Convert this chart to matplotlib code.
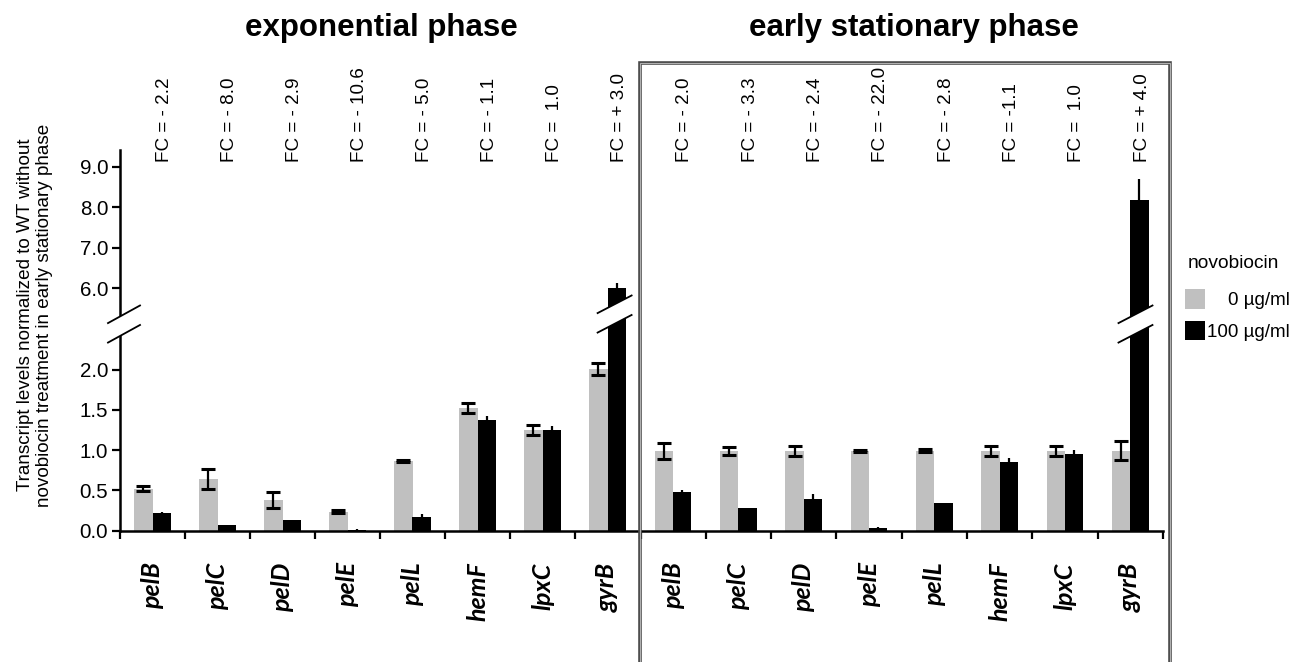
import numpy as np
import matplotlib
matplotlib.use("Agg")
import matplotlib.pyplot as plt
from matplotlib.patches import Polygon, Rectangle
from matplotlib.lines import Line2D
from matplotlib.transforms import IdentityTransform

plt.rcParams['font.family'] = ['Liberation Sans', 'DejaVu Sans']

# ---------------- data ----------------
genes = ['pelB', 'pelC', 'pelD', 'pelE', 'pelL', 'hemF', 'lpxC', 'gyrB']

exp_0 = [0.52, 0.645, 0.38, 0.235, 0.865, 1.52, 1.245, 2.01]
exp_0_err = [0.035, 0.125, 0.10, 0.02, 0.012, 0.06, 0.06, 0.075]
exp_100 = [0.22, 0.065, 0.125, 0.01, 0.17, 1.37, 1.245, 6.0]
exp_100_err = [0.01, 0.005, 0.01, 0.004, 0.04, 0.05, 0.05, 0.12]

stat_0 = [0.99, 0.99, 0.99, 0.99, 0.99, 0.99, 0.99, 0.99]
stat_0_err = [0.10, 0.05, 0.065, 0.015, 0.02, 0.06, 0.06, 0.12]
stat_100 = [0.48, 0.28, 0.39, 0.035, 0.34, 0.85, 0.955, 8.17]
stat_100_err = [0.02, 0.005, 0.06, 0.012, 0.005, 0.05, 0.05, 0.52]

fc_exp = ['FC = - 2.2', 'FC = - 8.0', 'FC = - 2.9', 'FC = - 10.6', 'FC = - 5.0',
          'FC = - 1.1', 'FC =  1.0', 'FC = + 3.0']
fc_stat = ['FC = - 2.0', 'FC = - 3.3', 'FC = - 2.4', 'FC = - 22.0', 'FC = - 2.8',
           'FC = -1.1', 'FC =  1.0', 'FC = + 4.0']

legend_title = 'novobiocin'
legend_labels = ['    0 \u00b5g/ml', '100 \u00b5g/ml']
titles = ['exponential phase', 'early stationary phase']
ylabel = 'Transcript levels normalized to WT without\nnovobiocin treatment in early stationary phase'
yticks = [0.0, 0.5, 1.0, 1.5, 2.0, 6.0, 7.0, 8.0, 9.0]

GRAY = '#c0c0c0'
BLACK = '#000000'

# ---------------- broken y scale ----------------
LOW_SLOPE = 80.5
L_END = 2.36
U_START = 5.52
UP_SLOPE = 40.5
H_L = LOW_SLOPE * L_END
H_U = 223.0
GAP_SLOPE = (H_U - H_L) / (U_START - L_END)


def fwd(y):
    y = np.asarray(y, dtype=float)
    return np.where(y <= L_END, LOW_SLOPE * y,
                    np.where(y >= U_START, H_U + UP_SLOPE * (y - U_START),
                             H_L + GAP_SLOPE * (y - L_END)))


def inv(h):
    h = np.asarray(h, dtype=float)
    return np.where(h <= H_L, h / LOW_SLOPE,
                    np.where(h >= H_U, U_START + (h - H_U) / UP_SLOPE,
                             L_END + (h - H_L) / GAP_SLOPE))


Y_BREAK = (L_END + U_START) / 2
YMAX = 9.41

W, H = 1297, 662
fig = plt.figure(figsize=(W / 100, H / 100), dpi=100)

axL = fig.add_axes([120 / W, 131.5 / H, 520 / W, 380.5 / H])
axR = fig.add_axes([640.5 / W, 131.5 / H, 522.5 / W, 380.5 / H])

x = np.arange(len(genes))
bw = 0.28

containers = {}
for ax, g, ge, b, be, fcs in [(axL, exp_0, exp_0_err, exp_100, exp_100_err, fc_exp),
                              (axR, stat_0, stat_0_err, stat_100, stat_100_err, fc_stat)]:
    ax.set_yscale('function', functions=(fwd, inv))
    ax.set_ylim(0, YMAX)
    ax.set_xlim(-0.5, len(genes) - 0.5)
    c0 = ax.bar(x - bw / 2, g, bw, color=GRAY, zorder=2)
    c1 = ax.bar(x + bw / 2, b, bw, color=BLACK, zorder=2)
    containers[ax] = (c0, c1)
    ax.errorbar(x - bw / 2, g, yerr=ge, fmt='none', ecolor='black',
                elinewidth=1.6, capsize=4.7, capthick=2.2, zorder=3)
    ax.errorbar(x + bw / 2, b, yerr=[np.zeros(len(be)), be], fmt='none',
                ecolor='black', elinewidth=1.6, capsize=0, zorder=3)
    for i, t in enumerate(fcs):
        ax.text(i + 0.18, 9.11, t, rotation=90, ha='center', va='bottom',
                fontsize=13.6, clip_on=False)
    # x axis
    ax.set_xticks(x)
    ax.set_xticklabels(genes, rotation=90, fontfamily='Lato', fontstyle='italic',
                       fontweight='bold', fontsize=18)
    ax.tick_params(axis='x', which='major', length=0, pad=23)
    ax.set_xticks(np.arange(len(genes) + 1) - 0.5, minor=True)
    ax.tick_params(axis='x', which='minor', length=6, width=1.6, direction='out')
    ax.spines['top'].set_visible(False)
    ax.spines['right'].set_visible(False)
    ax.spines['bottom'].set_linewidth(1.8)
    ax.spines['left'].set_linewidth(1.8)

axL.set_yticks(yticks)
axL.set_yticklabels(['%.1f' % v for v in yticks], fontsize=14.8)
axL.yaxis.set_minor_locator(matplotlib.ticker.NullLocator())
axL.tick_params(axis='y', length=5.5, width=1.6, pad=3)

axR.spines['left'].set_visible(False)
axR.set_yticks([])
axR.yaxis.set_minor_locator(matplotlib.ticker.NullLocator())

fig.text(35 / W, 1 - 315 / H, ylabel, rotation=90, ha='center', va='center',
         fontsize=13.6, multialignment='center', linespacing=1.15)

fig.text(381 / W, 1 - 28 / H, titles[0], ha='center', va='center',
         fontsize=22.5, fontweight='bold')
fig.text(914 / W, 1 - 28 / H, titles[1], ha='center', va='center',
         fontsize=22.5, fontweight='bold')

# frame around stationary-phase panel
fig.add_artist(Rectangle((640 / W, -0.05), 530 / W, (0.05 + 1 - 63 / H),
                         transform=fig.transFigure, fill=False,
                         edgecolor='#4a4a4a', linewidth=2.6, zorder=10))
fig.add_artist(Rectangle((640 / W, -0.05), 530 / W, (0.05 + 1 - 63 / H),
                         transform=fig.transFigure, fill=False,
                         edgecolor='#b0b0b0', linewidth=0.8, zorder=11))

# legend
fig.text(1188 / W, 1 - 263 / H, legend_title, ha='left', va='center', fontsize=13.8)
fig.legend(handles=[containers[axL][0], containers[axL][1]], labels=legend_labels,
           loc='upper left', bbox_to_anchor=(1185 / W, 1 - 289 / H),
           frameon=False, fontsize=13.6,
           handlelength=1.06, handleheight=1.22, handletextpad=0.12,
           labelspacing=0.6, borderpad=0, borderaxespad=0)


# ---------------- break marks ----------------
def draw_break(cx, cy, half=16, sep=19.5, rise=8.8, lw=1.3):
    p = Polygon([(cx - half, cy - sep / 2 - rise), (cx + half, cy - sep / 2 + rise),
                 (cx + half, cy + sep / 2 + rise), (cx - half, cy + sep / 2 - rise)],
                closed=True, facecolor='white', edgecolor='none',
                transform=IdentityTransform(), zorder=20)
    fig.add_artist(p)
    for s in (-1, 1):
        ln = Line2D([cx - half, cx + half],
                    [cy + s * sep / 2 - rise, cy + s * sep / 2 + rise],
                    color='black', linewidth=lw, transform=IdentityTransform(),
                    zorder=21)
        fig.add_artist(ln)


fig.canvas.draw()
# on the y axis
ax0 = axL.transData.transform((-0.5, Y_BREAK))
draw_break(ax0[0] + 4, ax0[1])
# through the tall gyrB bars
pL = axL.transData.transform((7 + bw / 2, Y_BREAK))
draw_break(pL[0] - 2, pL[1] + 10, half=17)
pR = axR.transData.transform((7 + bw / 2, Y_BREAK))
draw_break(pR[0] - 4, pR[1], half=17)

fig.savefig('out.png', dpi=100)
